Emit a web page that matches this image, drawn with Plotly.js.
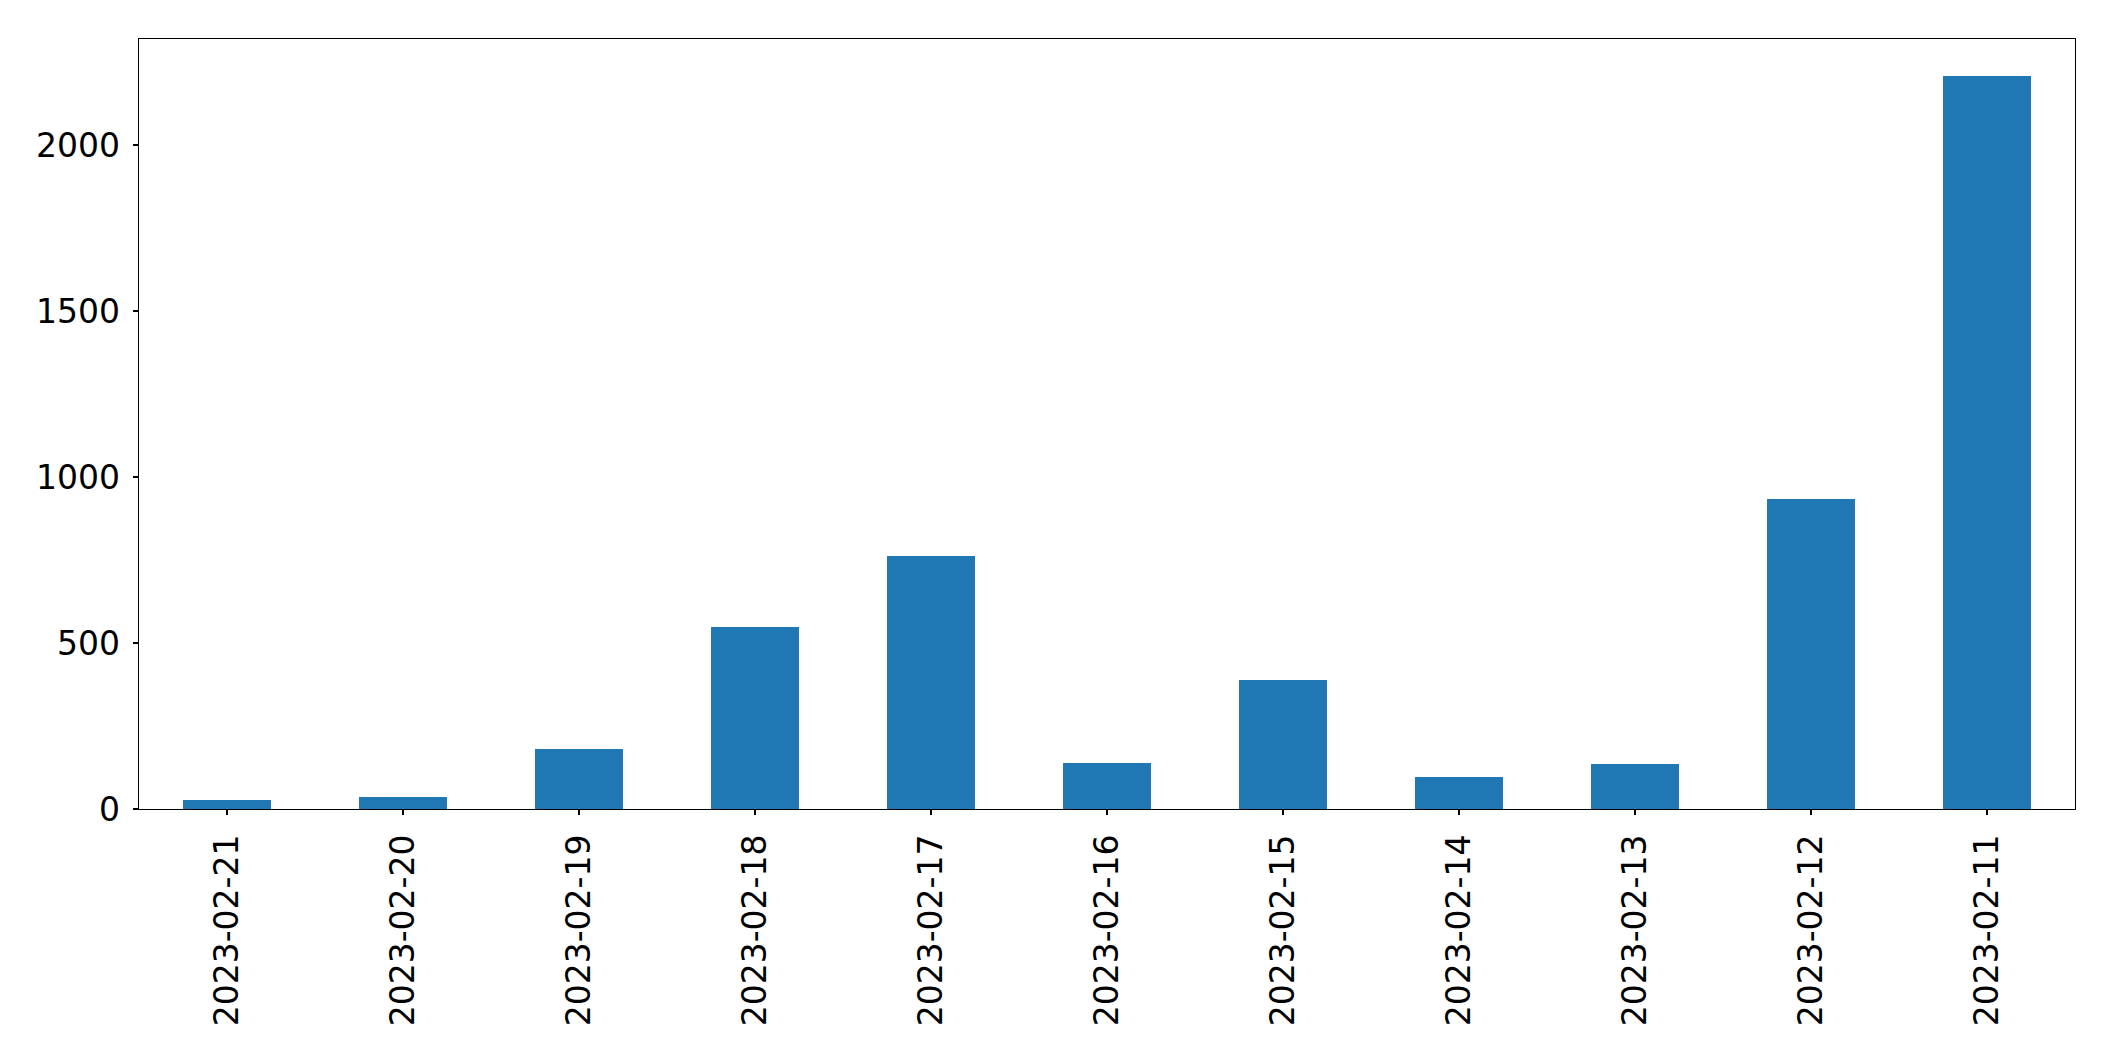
<!DOCTYPE html>
<html>
<head>
<meta charset="utf-8">
<script src="https://cdn.plot.ly/plotly-3.0.1.min.js"></script>
<style>html,body{margin:0;padding:0;background:#fff;}</style>
</head>
<body>
<div id="chart" style="width:2115px;height:1061px;"></div>
<script>
const dates = ["2023-02-21","2023-02-20","2023-02-19","2023-02-18","2023-02-17","2023-02-16","2023-02-15","2023-02-14","2023-02-13","2023-02-12","2023-02-11"];
const counts = [27, 36, 181, 548, 763, 139, 389, 97, 136, 934, 2209];
const yTicks = [0, 500, 1000, 1500, 2000];

const font = {family: "DejaVu Sans", size: 33, color: "#000"};
Plotly.newPlot("chart", [{
  type: "bar",
  x: dates,
  y: counts,
  width: 0.5,
  marker: {color: "#1f77b4", line: {width: 0}},
  hoverinfo: "x+y"
}], {
  width: 2115, height: 1061,
  margin: {l: 138.5, r: 39.7, t: 39.3, b: 252, pad: 0},
  paper_bgcolor: "#fff", plot_bgcolor: "#fff",
  showlegend: false,
  font: font,
  bargap: 0,
  xaxis: {
    type: "category",
    range: [-0.5, 10.5],
    tickangle: -90,
    ticks: "outside", ticklen: 5, tickwidth: 1.3, tickcolor: "#000",
    showline: true, mirror: true, linecolor: "#000", linewidth: 1.3,
    showgrid: false, zeroline: false,
    tickfont: font,
    ticklabelstandoff: 6
  },
  yaxis: {
    range: [0, 2319.5],
    tickvals: yTicks,
    ticktext: yTicks.map(String),
    ticks: "outside", ticklen: 5, tickwidth: 1.3, tickcolor: "#000",
    showline: true, mirror: true, linecolor: "#000", linewidth: 1.3,
    showgrid: false, zeroline: false,
    tickfont: font,
    ticklabelstandoff: 6
  }
}, {displayModeBar: false, staticPlot: true});
</script>
</body>
</html>
